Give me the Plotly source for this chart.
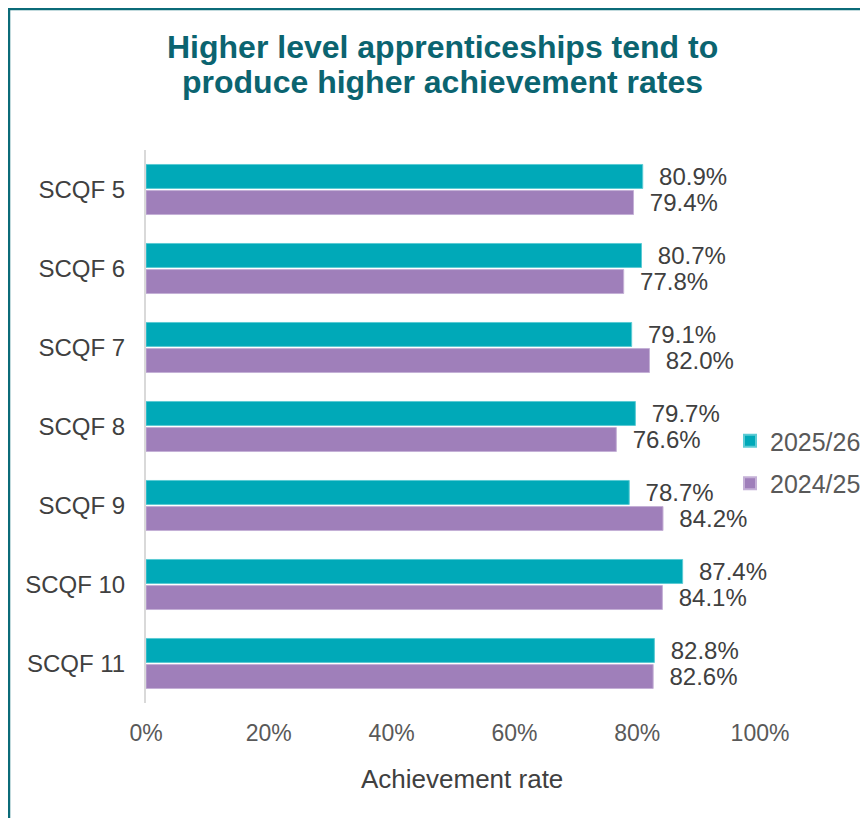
import plotly.graph_objects as go

categories = ["SCQF 5", "SCQF 6", "SCQF 7", "SCQF 8", "SCQF 9", "SCQF 10", "SCQF 11"]
rate_2025_26 = [80.9, 80.7, 79.1, 79.7, 78.7, 87.4, 82.8]
rate_2024_25 = [79.4, 77.8, 82.0, 76.6, 84.2, 84.1, 82.6]
series_names = ["2025/26", "2024/25"]
x_tick_vals = [0, 20, 40, 60, 80, 100]
x_tick_text = ["0%", "20%", "40%", "60%", "80%", "100%"]
title_lines = ["Higher level apprenticeships tend to", "produce higher achievement rates"]
x_axis_title = "Achievement rate"

TEAL = "#00A9B8"
PURPLE = "#9F7FBA"
TEXT = "#404040"
FONT = "Liberation Sans, Arial, sans-serif"

fig = go.Figure()
fig.add_trace(go.Bar(
    y=categories, x=rate_2025_26, orientation="h", name=series_names[0],
    legendgroup="a",
    marker=dict(color=TEAL, line=dict(color="#5ccbd4", width=1)),
    texttemplate="\u00a0\u00a0%{x:.1f}%", textposition="outside",
    textfont=dict(size=24, color=TEXT, family=FONT), cliponaxis=False,
    constraintext="none",
))
fig.add_trace(go.Bar(
    y=categories, x=rate_2024_25, orientation="h", name=series_names[1],
    legendgroup="b",
    marker=dict(color=PURPLE, line=dict(color="#c4b0d6", width=1)),
    texttemplate="\u00a0\u00a0%{x:.1f}%", textposition="outside",
    textfont=dict(size=24, color=TEXT, family=FONT), cliponaxis=False,
    constraintext="none",
))

# figure sits at page offset (8, 8) because of the default body margin
OFF = 8
W, H = 860, 810
L, R, T, B = 138, 108, 142, 115
pw, ph = W - L - R, H - T - B

def px_x(page_x):
    return (page_x - OFF - L) / pw

def px_y(page_y):
    return 1 - (page_y - OFF - T) / ph

annotations = [
    dict(text="<b>%s</b>" % title_lines[0], xref="paper", yref="paper",
         x=px_x(442), y=px_y(47), xanchor="center", yanchor="middle", showarrow=False,
         font=dict(size=32, color="#0B6470", family=FONT)),
    dict(text="<b>%s</b>" % title_lines[1], xref="paper", yref="paper",
         x=px_x(442), y=px_y(82), xanchor="center", yanchor="middle", showarrow=False,
         font=dict(size=32, color="#0B6470", family=FONT)),
    dict(text=x_axis_title, xref="paper", yref="paper",
         x=px_x(462), y=px_y(779), xanchor="center", yanchor="middle", showarrow=False,
         font=dict(size=26, color=TEXT, family=FONT)),
]

fig.update_layout(
    width=W, height=H,
    margin=dict(l=L, r=R, t=T, b=B, autoexpand=False),
    paper_bgcolor="white", plot_bgcolor="white",
    barmode="group", bargap=0.34, bargroupgap=0.08,
    font=dict(family=FONT, color=TEXT),
    annotations=annotations,
    xaxis=dict(
        range=[0, 100], tickvals=x_tick_vals, ticktext=x_tick_text,
        showgrid=False, zeroline=False, showline=False,
        tickfont=dict(size=23, color="#595959", family=FONT),
        ticks="", ticklabelstandoff=14,
    ),
    yaxis=dict(
        autorange="reversed", showgrid=False, showline=True, linecolor="#D9D9D9", linewidth=2,
        ticks="", tickfont=dict(size=24, color=TEXT, family=FONT), ticklabelstandoff=14,
    ),
    legend=dict(
        x=px_x(730), xanchor="left", y=px_y(418), yanchor="top",
        font=dict(size=25, color="#595959", family=FONT),
        bgcolor="rgba(0,0,0,0)", itemsizing="constant", tracegroupgap=7,
        traceorder="grouped",
    ),
    showlegend=True,
    shapes=[
        dict(type="line", xref="paper", yref="paper",
             x0=px_x(OFF), x1=px_x(OFF + W + 5), y0=px_y(OFF + 1), y1=px_y(OFF + 1),
             line=dict(color="#0B6B78", width=2.5)),
        dict(type="line", xref="paper", yref="paper",
             x0=px_x(OFF + 1), x1=px_x(OFF + 1), y0=px_y(OFF), y1=px_y(OFF + H + 5),
             line=dict(color="#0B6B78", width=2.5)),
    ],
)

fig.write_html("out.html")
